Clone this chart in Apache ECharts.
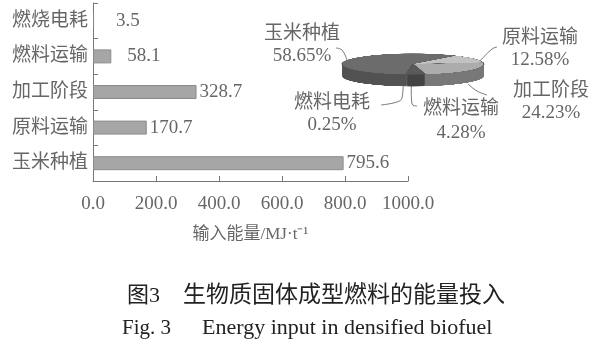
<!DOCTYPE html>
<html><head><meta charset="utf-8">
<script src="https://cdn.jsdelivr.net/npm/echarts@6/dist/echarts.min.js"></script>
<style>
html,body{margin:0;padding:0;background:#fff;}
#wrap{position:relative;width:600px;height:352px;overflow:hidden;}
#main{position:absolute;left:0;top:0;width:600px;height:352px;}
#pie{position:absolute;left:333px;top:52px;width:160px;height:260px;transform:scaleY(0.148);transform-origin:0 0;}
</style></head>
<body><div id="wrap"><div id="main"></div><div id="pie"></div></div>
<script>
// ---- data ----
const categories = ['玉米种植', '原料运输', '加工阶段', '燃料运输', '燃烧电耗'];
const energyValues = [795.6, 170.7, 328.7, 58.1, 3.5];
const xMin = 0, xMax = 1000, xInterval = 200;
const xAxisName = '输入能量/MJ·t⁻¹';
const pieNames = ['玉米种植', '原料运输', '加工阶段', '燃料运输', '燃料电耗'];
const piePercents = [58.65, 12.58, 24.23, 4.28, 0.25];
const captionCN = ['图3', '生物质固体成型燃料的能量投入'];
const captionEN = ['Fig. 3', 'Energy input in densified biofuel'];

const FONT = '"Liberation Serif", "Noto Sans CJK SC", serif';
const TXT = '#666';

// ---- main chart (bars + texts) ----
const main = echarts.init(document.getElementById('main'), null, {renderer: 'canvas'});

// pie label layout (text centres) and leader lines
const pieLabelPos = [
  {x: 302, y1: 34, y2: 56, line: [[336, 48], [342, 50], [347, 60]]},
  {x: 540, y1: 38, y2: 60, line: [[497, 47], [492, 49], [479, 62]]},
  {x: 551, y1: 91, y2: 113, line: [[468, 84], [477, 91], [487, 95]]},
  {x: 461, y1: 109, y2: 133, line: [[412, 76], [412, 104], [417, 106]]},
  {x: 332, y1: 103, y2: 125, line: [[403, 76], [402, 98], [397, 102], [381, 105]]}
];
const graphics = [];
pieNames.forEach((n, i) => {
  const p = pieLabelPos[i];
  graphics.push({type: 'text', x: p.x, y: p.y1, style: {text: n, fill: TXT, font: '19px ' + FONT, textAlign: 'center', textVerticalAlign: 'middle'}});
  graphics.push({type: 'text', x: p.x, y: p.y2, style: {text: piePercents[i].toFixed(2) + '%', fill: TXT, font: '19px ' + FONT, textAlign: 'center', textVerticalAlign: 'middle'}});
  graphics.push({type: 'polyline', shape: {points: p.line, smooth: 0.4}, style: {stroke: '#777', lineWidth: 1, fill: null}});
});
graphics.push({type: 'text', x: 127, y: 296, style: {text: captionCN[0], fill: '#222', font: '22px ' + FONT, textVerticalAlign: 'middle'}});
graphics.push({type: 'text', x: 183, y: 296, style: {text: captionCN[1], fill: '#222', font: '23px ' + FONT, textVerticalAlign: 'middle'}});
graphics.push({type: 'text', x: 122, y: 328, style: {text: captionEN[0], fill: '#222', font: '21px ' + FONT, textVerticalAlign: 'middle'}});
graphics.push({type: 'text', x: 202, y: 328, style: {text: captionEN[1], fill: '#222', font: '22px ' + FONT, textVerticalAlign: 'middle'}});

main.setOption({
  animation: false,
  backgroundColor: '#fff',
  grid: {left: 93, right: 192, top: 3, bottom: 171, containLabel: false, outerBoundsMode: 'none'},
  xAxis: {
    type: 'value', min: xMin, max: xMax, interval: xInterval,
    name: xAxisName, nameLocation: 'middle', nameGap: 45,
    nameTextStyle: {color: TXT, fontSize: 17, fontFamily: FONT},
    axisLine: {show: true, lineStyle: {color: '#777', width: 1}},
    axisTick: {show: true, inside: true, length: 5, lineStyle: {color: '#777'}},
    axisLabel: {color: TXT, fontSize: 19, fontFamily: FONT, margin: 14, formatter: v => v.toFixed(1)},
    splitLine: {show: false}
  },
  yAxis: {
    type: 'category', data: categories,
    axisLine: {show: true, lineStyle: {color: '#777', width: 1}},
    axisTick: {show: true, inside: true, length: 5, lineStyle: {color: '#777'}},
    axisLabel: {color: TXT, fontSize: 19, fontFamily: FONT, margin: 5},
    splitLine: {show: false}
  },
  series: [{
    type: 'bar', barWidth: 14,
    data: energyValues.map(v => ({value: v, label: {distance: v < 10 ? 22 : (v < 100 ? 16 : 3)}})),
    itemStyle: {color: '#a6a6a6', borderColor: '#8c8c8c', borderWidth: 1},
    label: {show: true, position: 'right', color: TXT, fontSize: 19, fontFamily: FONT, formatter: p => p.value.toFixed(1)}
  }],
  graphic: graphics
});

// ---- pie (squashed to look like the 3-D ellipse) ----
const pie = echarts.init(document.getElementById('pie'), null, {renderer: 'canvas'});
const topColors = ['#6c6c6c', '#c2c2c2', '#acacac', '#5a5a5a', '#858585'];
const sideColors = ['#525252', '#8e8e8e', '#787878', '#444444', '#606060'];
const R = 71, CX = 80, CY = 81, DEPTH = 81, LAYERS = 12;
const pieSeries = [];
for (let k = LAYERS; k >= 1; k--) {
  pieSeries.push({
    type: 'pie', radius: R, center: [CX, CY + DEPTH * k / LAYERS],
    startAngle: -96, clockwise: true, silent: true, avoidLabelOverlap: false,
    label: {show: false}, labelLine: {show: false},
    data: pieNames.map((n, i) => ({name: n, value: piePercents[i], itemStyle: {color: sideColors[i], borderWidth: 0}}))
  });
}
pieSeries.push({
  type: 'pie', radius: R, center: [CX, CY],
  startAngle: -96, clockwise: true, silent: true, avoidLabelOverlap: false,
  label: {show: false}, labelLine: {show: false},
  data: pieNames.map((n, i) => ({name: n, value: piePercents[i], itemStyle: {color: topColors[i], borderColor: '#555', borderWidth: 1}}))
});
pie.setOption({animation: false, series: pieSeries});
</script>
</body></html>
